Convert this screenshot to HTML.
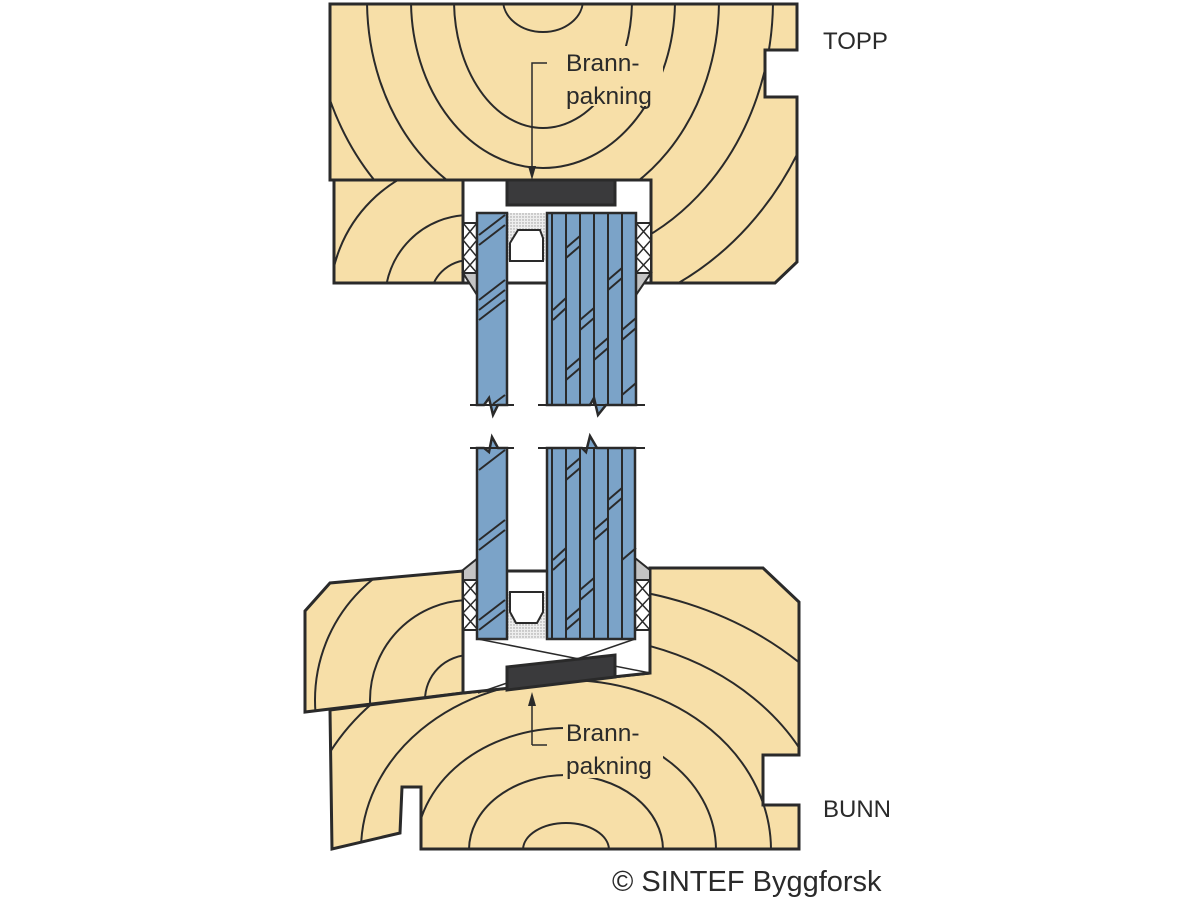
<!DOCTYPE html>
<html><head><meta charset="utf-8"><style>
html,body{margin:0;padding:0;background:#fff;width:1200px;height:900px;overflow:hidden;}
svg{display:block}
text{font-family:"Liberation Sans",Arial,sans-serif;fill:#2a2a2a}
</style></head><body>
<svg width="1200" height="900" viewBox="0 0 1200 900" xmlns="http://www.w3.org/2000/svg">
<defs>
<pattern id="dots" width="3" height="3" patternUnits="userSpaceOnUse"><rect width="3" height="3" fill="#eee"/><circle cx="1" cy="1" r="0.7" fill="#999"/></pattern>
<clipPath id="ctop"><polygon points="330,4 797,4 797,50 765,50 765,97 797,97 797,262 775,283 651,283 651,180 330,180"/></clipPath>
<clipPath id="cleft"><rect x="334" y="180" width="129" height="103"/></clipPath>
<clipPath id="cbl"><polygon points="305,611 330,583 463,571 463,693 305,712"/></clipPath>
<clipPath id="cbot"><polygon points="330,710 463,693 650,673 650,568 763,568 799,602 799,755 763,755 763,805 799,805 799,849 421,849 421,787 402,787 400,833 332,849"/></clipPath>
</defs>
<g stroke="#2a2a2a" stroke-width="3" stroke-linejoin="miter">
<polygon points="330,4 797,4 797,50 765,50 765,97 797,97 797,262 775,283 651,283 651,180 330,180" fill="#f7dfa8"/>
<g clip-path="url(#ctop)" fill="none" stroke-width="2">
<ellipse cx="543" cy="0" rx="40" ry="32"/><ellipse cx="543" cy="0" rx="89" ry="128"/><ellipse cx="543" cy="0" rx="132" ry="168"/><ellipse cx="543" cy="0" rx="176" ry="215"/><ellipse cx="543" cy="0" rx="230" ry="265"/><ellipse cx="543" cy="0" rx="290" ry="320"/>
</g>
<rect x="334" y="180" width="129" height="103" fill="#f7dfa8"/>
<g clip-path="url(#cleft)" fill="none" stroke-width="2">
<circle cx="470" cy="300" r="40"/><circle cx="470" cy="300" r="85"/><circle cx="470" cy="300" r="140"/>
</g>
<rect x="463" y="180" width="188" height="103" fill="#fff"/>
<rect x="507" y="180" width="108" height="25" fill="#3a3a3c"/>
<polygon points="305,611 330,583 463,571 463,693 305,712" fill="#f7dfa8"/>
<g clip-path="url(#cbl)" fill="none" stroke-width="2">
<circle cx="470" cy="700" r="45"/><circle cx="470" cy="700" r="100"/><circle cx="470" cy="700" r="155"/>
</g>
<polygon points="330,710 463,693 650,673 650,568 763,568 799,602 799,755 763,755 763,805 799,805 799,849 421,849 421,787 402,787 400,833 332,849" fill="#f7dfa8"/>
<g clip-path="url(#cbot)" fill="none" stroke-width="2">
<ellipse cx="566" cy="850" rx="43" ry="27"/><ellipse cx="566" cy="850" rx="97" ry="75"/><ellipse cx="566" cy="850" rx="150" ry="122"/><ellipse cx="566" cy="850" rx="205" ry="170"/><ellipse cx="566" cy="850" rx="265" ry="215"/><ellipse cx="566" cy="850" rx="330" ry="265"/>
</g>
<polygon points="463,571 650,571 650,673 463,693" fill="#fff"/>
<g stroke-width="1.5"><line x1="478" y1="639" x2="650" y2="673"/><line x1="635" y1="639" x2="478" y2="693"/></g>
<polygon points="507,667 615,655 615,677 507,690" fill="#3a3a3c"/>
<g fill="#fff" stroke-width="2">
<rect x="463" y="223" width="14" height="50"/><rect x="636" y="223" width="15" height="50"/>
<rect x="463" y="580" width="15" height="50"/><rect x="635" y="580" width="15" height="50"/>
</g>
<g stroke-width="1.5" fill="none">
<path d="M463,223 L477,240 M477,223 L463,240 M463,240 L477,257 M477,240 L463,257 M463,257 L477,273 M477,257 L463,273"/>
<path d="M636,223 L651,240 M651,223 L636,240 M636,240 L651,257 M651,240 L636,257 M636,257 L651,273 M651,257 L636,273"/>
<path d="M463,580 L478,597 M478,580 L463,597 M463,597 L478,613 M478,597 L463,613 M463,613 L478,630 M478,613 L463,630"/>
<path d="M635,580 L650,597 M650,580 L635,597 M635,597 L650,613 M650,597 L635,613 M635,613 L650,630 M650,613 L635,630"/>
</g>
<g fill="#c4c4c4" stroke-width="2">
<polygon points="463,273 477,273 477,295"/><polygon points="636,273 651,273 636,295"/>
<polygon points="478,558 478,580 463,580 463,570"/><polygon points="635,558 650,570 650,580 635,580"/>
</g>
<rect x="507" y="213" width="40" height="48" fill="url(#dots)" stroke="none"/>
<polygon points="510,243 518,230 540,230 543,238 543,261 510,261" fill="#fff" stroke-width="2"/>
<rect x="507" y="592" width="40" height="47" fill="url(#dots)" stroke="none"/>
<polygon points="510,592 543,592 543,612 537,623 516,623 510,612" fill="#fff" stroke-width="2"/>
<g fill="#7ba3c8" stroke-width="2.5">
<path d="M477,213 H507 V405 H498 L493,415 L489,398 L484,405 H477 Z"/>
<path d="M547,213 H636 V405 H606 L598,415 L594,398 L590,405 H547 Z"/>
<path d="M477,639 H507 V448 H498 L492,437 L489,452 L484,448 H477 Z"/>
<path d="M547,639 H635 V448 H597 L590,436 L586,452 L582,448 H547 Z"/>
</g>
<g stroke-width="2" fill="none">
<path d="M552,213 V405 M566,213 V405 M580,213 V405 M594,213 V405 M608,213 V405 M622,213 V405"/>
<path d="M552,448 V639 M566,448 V639 M580,448 V639 M594,448 V639 M608,448 V639 M622,448 V639"/>
<path d="M470,405 H514 M538,405 H645 M470,448 H514 M538,448 H645"/>
<path d="M479,235 L505,215 M479,245 L505,225 M479,300 L505,280 M479,310 L505,290 M479,320 L505,300 M493,404 L505,395"/>
<path d="M566,248 L580,236 M566,258 L580,246 M553,310 L566,298 M553,320 L566,308 M580,320 L594,308 M580,330 L594,318 M608,280 L622,268 M608,290 L622,278 M594,350 L608,338 M594,360 L608,348 M622,330 L636,318 M622,340 L636,328 M566,370 L580,358 M566,380 L580,368 M622,395 L636,383"/>
<path d="M479,470 L505,450 M479,540 L505,520 M479,550 L505,530 M479,620 L505,600 M479,630 L505,610"/>
<path d="M566,470 L580,458 M566,480 L580,468 M608,500 L622,488 M608,510 L622,498 M553,560 L566,548 M553,570 L566,558 M580,590 L594,578 M580,600 L594,588 M622,560 L636,548 M594,530 L608,518 M594,540 L608,528 M566,620 L580,608 M566,630 L580,618"/>
</g>
<g stroke-width="1.5" fill="none">
<path d="M547,63 H532 V168"/><path d="M532,745 H547"/><path d="M532,745 V705"/>
</g>
<polygon points="528,166 536,166 532,180" fill="#2a2a2a" stroke="none"/>
<polygon points="528,706 536,706 532,692" fill="#2a2a2a" stroke="none"/>
</g>
<rect x="563" y="46" width="100" height="60" fill="#f7dfa8"/>
<text x="566" y="71" font-size="24.5">Brann-</text>
<text x="566" y="104" font-size="24.5">pakning</text>
<rect x="563" y="716" width="100" height="62" fill="#f7dfa8"/>
<text x="566" y="741" font-size="24.5">Brann-</text>
<text x="566" y="774" font-size="24.5">pakning</text>
<text x="823" y="49" font-size="24">TOPP</text>
<text x="823" y="817" font-size="24">BUNN</text>
<text x="612" y="891" font-size="29">© SINTEF Byggforsk</text>
</svg>
</body></html>
